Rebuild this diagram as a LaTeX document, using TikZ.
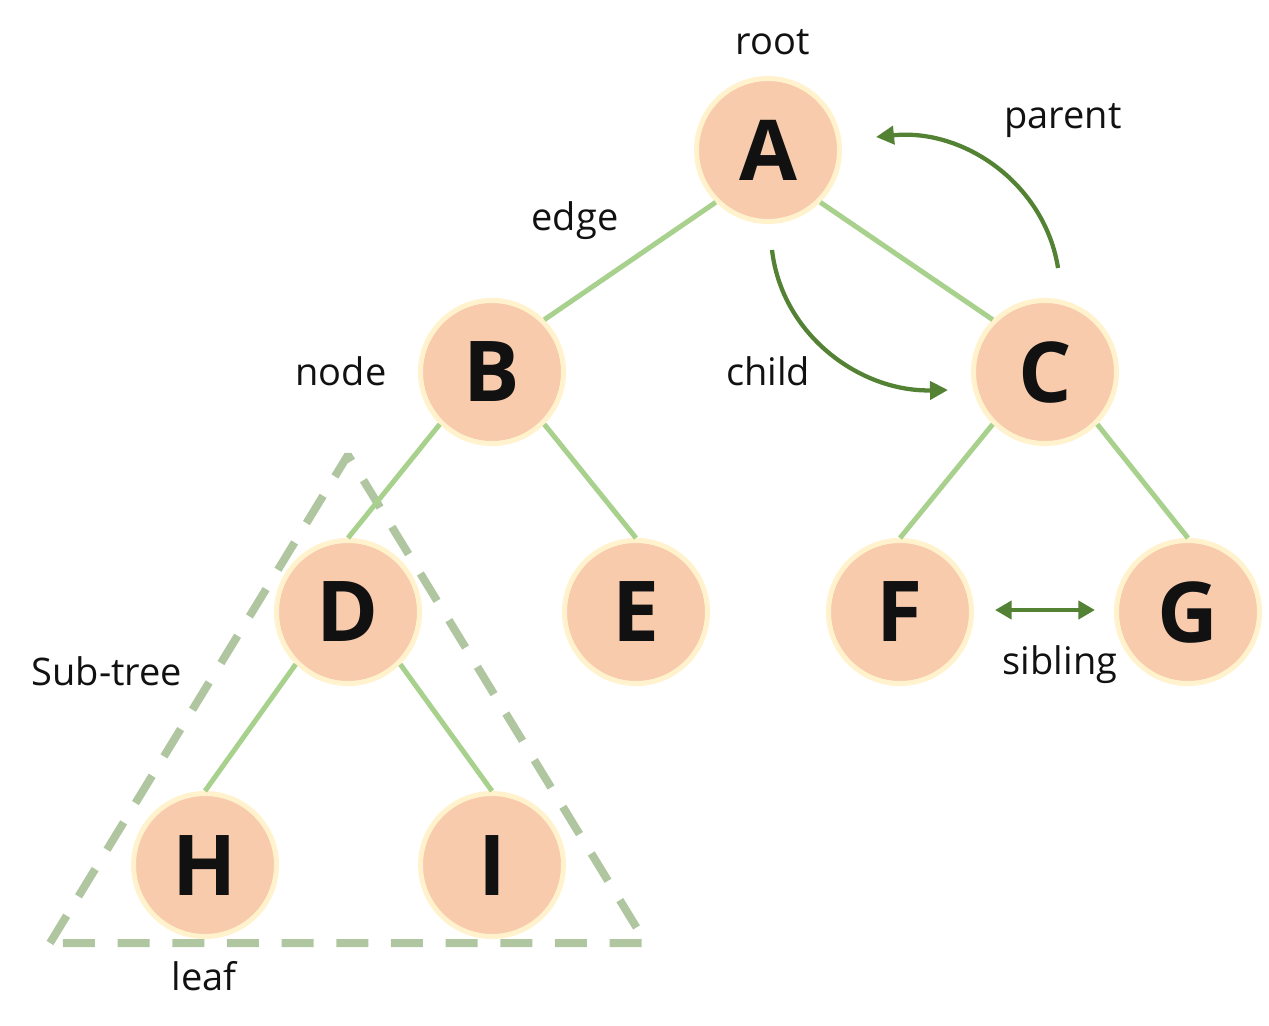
\documentclass[tikz,border=0pt]{standalone}
\usepackage{fontspec}
\setmainfont{Open Sans}
\usetikzlibrary{arrows.meta}
\definecolor{peach}{HTML}{F8CBAD}
\definecolor{cream}{HTML}{FFF2CC}
\definecolor{edgegreen}{HTML}{A9D18E}
\definecolor{darkgreen}{HTML}{548235}
\definecolor{dashgreen}{HTML}{AFC6A0}
\definecolor{ink}{HTML}{111111}
\begin{document}
\begin{tikzpicture}[x=0.75pt,y=-0.75pt,
  tnode/.style={circle,draw=cream,line width=3.75pt,fill=peach,minimum size=107.25pt,inner sep=0pt,
    font=\fontsize{63}{63}\selectfont\bfseries,text=ink},
  edgeline/.style={draw=edgegreen,line width=3.75pt},
  lbl/.style={font=\fontsize{28.5}{34}\selectfont,text=ink,inner sep=0pt},
  subtree/.style={draw=dashgreen,line width=6pt,dash pattern=on 24pt off 17pt,line join=bevel},
  curvearrow/.style={draw=darkgreen,line width=3.2pt,-{Triangle[length=13.5pt,width=13.5pt]}},
  sibarrow/.style={draw=darkgreen,line width=3.5pt,{Triangle[length=12.5pt,width=13.5pt]}-{Triangle[length=12.5pt,width=13.5pt]}}]
\path[use as bounding box] (0,0) rectangle (1269,1025);

\node[tnode] (A) at (768,150) {A};
\node[tnode] (B) at (492,372) {B};
\node[tnode] (C) at (1045,372) {C};
\node[tnode] (D) at (348,612) {D};
\node[tnode] (E) at (636,612) {E};
\node[tnode] (F) at (900,612) {F};
\node[tnode] (G) at (1188,612) {G};
\node[tnode] (H) at (205,865) {H};
\node[tnode] (I) at (492,865) {I};

\coordinate (t1) at (50,943);
\coordinate (t2) at (348,455);
\coordinate (t3) at (646,943);
\draw[subtree] (t1) -- (t2) -- (t3) -- cycle;

\draw[edgeline] (A.south west) -- (B.north east);
\draw[edgeline] (A.south east) -- (C.north west);
\draw[edgeline] (B.south west) -- (D.north);
\draw[edgeline] (B.south east) -- (E.north);
\draw[edgeline] (C.south west) -- (F.north);
\draw[edgeline] (C.south east) -- (G.north);
\draw[edgeline] (D.south west) -- (H.north);
\draw[edgeline] (D.south east) -- (I.north);

\coordinate (ps) at (1058,268);
\coordinate (pe) at (876,137);
\draw[curvearrow] (ps) .. controls (1045,185) and (965,128) .. (pe);
\coordinate (cs) at (772,250);
\coordinate (ce) at (948,390);
\draw[curvearrow] (cs) .. controls (782,335) and (860,392) .. (ce);
\coordinate (ss) at (995,610);
\coordinate (se) at (1095,610);
\draw[sibarrow] (ss) -- (se);

\node[lbl] (lroot) at (773,42) {root};
\node[lbl] (lparent) at (1063,121) {parent};
\node[lbl] (ledge) at (575,221) {edge};
\node[lbl] (lnode) at (341,371) {node};
\node[lbl] (lchild) at (768,371) {child};
\node[lbl] (lsub) at (107,671) {Sub-tree};
\node[lbl] (lsib) at (1060,665) {sibling};
\node[lbl] (lleaf) at (204,976) {leaf};
\end{tikzpicture}
\end{document}
